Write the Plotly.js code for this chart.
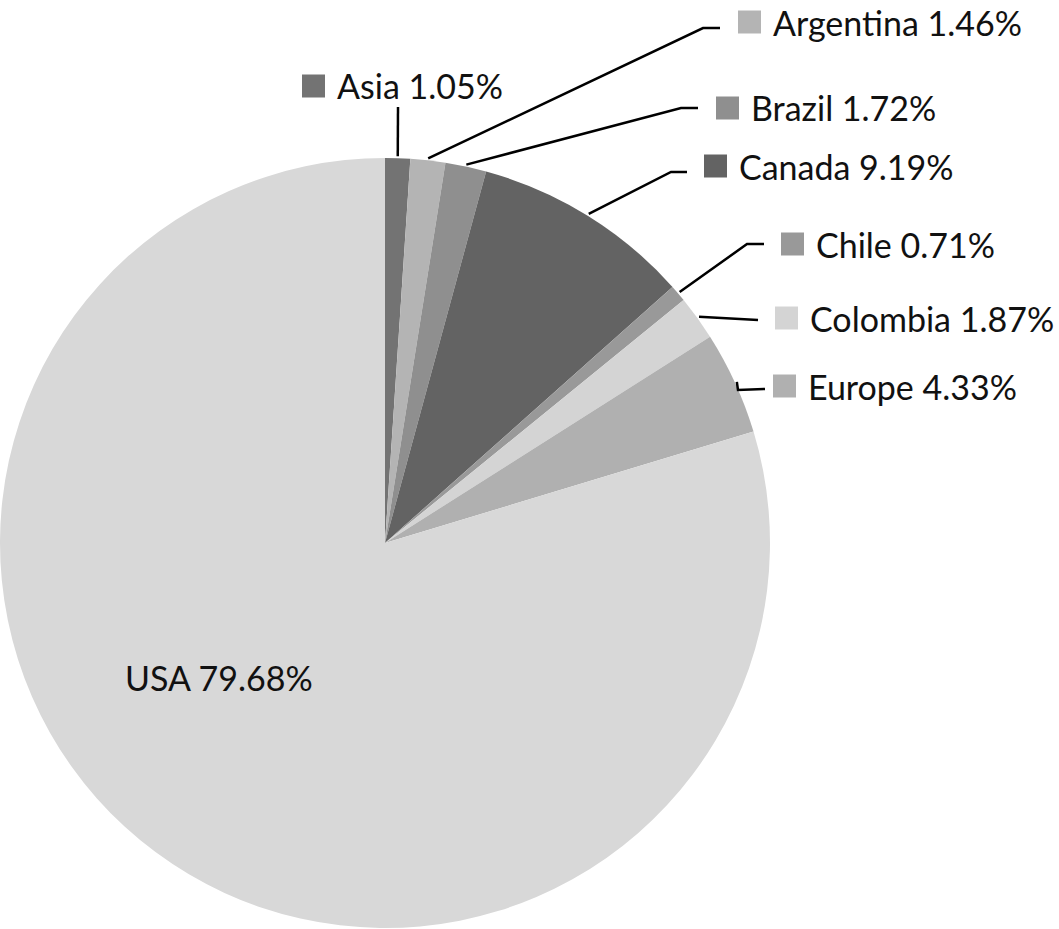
<!DOCTYPE html>
<html>
<head>
<meta charset="utf-8">
<script src="https://cdn.plot.ly/plotly-3.0.1.min.js"></script>
<style>
  html, body { margin: 0; padding: 0; background: #fff; }
  #chart { width: 1059px; height: 929px; }
</style>
</head>
<body>
<div id="chart"></div>
<script>
'use strict'

// data
var regions = ['Asia', 'Argentina', 'Brazil', 'Canada', 'Chile', 'Colombia', 'Europe', 'USA'];
var shares = [1.05, 1.46, 1.72, 9.19, 0.71, 1.87, 4.33, 79.68];
var colors = ['#737373', '#b4b4b4', '#8f8f8f', '#636363', '#999999', '#d4d4d4', '#b0b0b0', '#d8d8d8'];

// label placement (pixels): square left edge, text row centre, elbow of leader line
var labelLeft = [302, 738, 716, 704, 781, 775, 773, 123];
var labelMid  = [86, 22, 108, 166, 244, 318, 386, 677];
var elbows    = [null, [703, 28], [681, 108], [671, 172], [747, 244], null, [738, 390], null];
var lineEnds  = [[398, 107], [720, 28], [698, 108], [687, 172], [764, 244], [758, 320], [765, 389], null];

var W = 1059, H = 929;
var cx = 385, cy = 543, R = 385;
var font = 'Lato, "Open Sans", sans-serif';
var fontSize = 34;

function px(x) { return x / W; }
function py(y) { return 1 - y / H; }

var total = shares.reduce(function (a, b) { return a + b; }, 0);

var trace = {
  type: 'pie',
  values: shares,
  labels: regions,
  sort: false,
  direction: 'clockwise',
  rotation: 0,
  textinfo: 'none',
  hoverinfo: 'skip',
  marker: { colors: colors, line: { width: 0 } },
  domain: { x: [px(cx - R), px(cx + R)], y: [py(cy + R), py(cy - R)] }
};

var shapes = [];
var annotations = [];
var cum = 0;
for (var i = 0; i < regions.length; i++) {
  var mid = (cum + shares[i] / 2) / total * 2 * Math.PI;
  cum += shares[i];
  var txt = regions[i] + ' ' + shares[i].toFixed(2) + '%';
  if (lineEnds[i]) {
    var sx = cx + (R + 2) * Math.sin(mid);
    var sy = cy - (R + 2) * Math.cos(mid);
    var path = 'M ' + px(sx) + ' ' + py(sy);
    if (elbows[i]) path += ' L ' + px(elbows[i][0]) + ' ' + py(elbows[i][1]);
    path += ' L ' + px(lineEnds[i][0]) + ' ' + py(lineEnds[i][1]);
    shapes.push({
      type: 'path', xref: 'paper', yref: 'paper', path: path,
      line: { color: '#000', width: 2.5 }
    });
    shapes.push({
      type: 'rect', xref: 'paper', yref: 'paper',
      x0: px(labelLeft[i]), x1: px(labelLeft[i] + 23),
      y0: py(labelMid[i] + 11.5), y1: py(labelMid[i] - 11.5),
      fillcolor: colors[i], line: { width: 0 }
    });
    annotations.push({
      xref: 'paper', yref: 'paper', x: px(labelLeft[i] + 33), y: py(labelMid[i]),
      xanchor: 'left', yanchor: 'middle', showarrow: false, text: txt,
      font: { family: font, size: fontSize, color: '#111' }
    });
  } else {
    annotations.push({
      xref: 'paper', yref: 'paper', x: px(labelLeft[i]), y: py(labelMid[i]),
      xanchor: 'left', yanchor: 'middle', showarrow: false, text: txt,
      font: { family: font, size: fontSize, color: '#111' }
    });
  }
}

var layout = {
  width: W,
  height: H,
  margin: { t: 0, b: 0, l: 0, r: 0 },
  paper_bgcolor: '#fff',
  showlegend: false,
  shapes: shapes,
  annotations: annotations
};

Plotly.newPlot('chart', [trace], layout, { displayModeBar: false, staticPlot: true });
</script>
</body>
</html>
